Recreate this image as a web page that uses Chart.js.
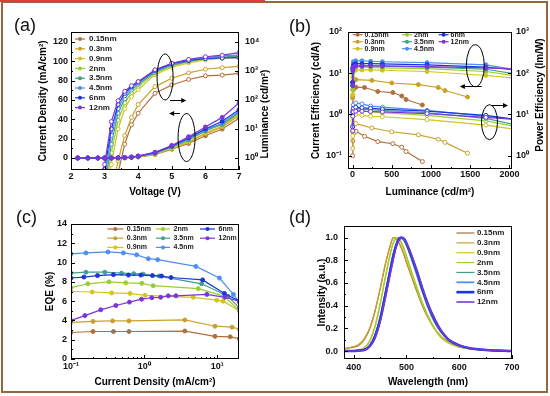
<!DOCTYPE html>
<html>
<head>
<meta charset="utf-8">
<script src="https://cdn.jsdelivr.net/npm/chart.js@4.4.1/dist/chart.umd.min.js"></script>
<style>
  body { margin: 0; background: #fff; }
  #wrap { position: relative; width: 550px; height: 396px; overflow: hidden; background: #fff; }
  canvas { position: absolute; }
  #frame { position: absolute; left: 1px; top: 1px; width: 543px; height: 388px; border: 2px solid #94683c; }
  #redline { position: absolute; left: 0; top: 0; width: 265px; height: 2px; background: #e23a3a; }
</style>
</head>
<body>
<div id="wrap">
  <canvas id="cA" width="275" height="198" style="left:0;top:0"></canvas>
  <canvas id="cB" width="275" height="198" style="left:275px;top:0"></canvas>
  <canvas id="cC" width="275" height="198" style="left:0;top:198px"></canvas>
  <canvas id="cD" width="275" height="198" style="left:275px;top:198px"></canvas>
  <div id="frame"></div>
  <div id="redline"></div>
</div>
<script>
// ---- data ----
const thickness = ['0.15nm', '0.3nm', '0.9nm', '2nm', '3.5nm', '4.5nm', '6nm', '12nm'];
const colors = ['#b0703c', '#c9a12a', '#d4c41c', '#9acd32', '#3fa08c', '#4d8ff0', '#1a35e0', '#7b35d8'];

// (a) J-V-L
const voltJ = [2.2, 2.5, 2.8, 3.0, 3.2, 3.4, 3.6, 3.8, 4.0, 4.5, 5.0, 5.5, 6.0, 6.5, 7.0];
const currentDensity = [
  [0, 0, 0, 0, 0, 0, 0.1, 0.4, 1.0, 3.5, 9, 15, 23, 30, 41],
  [0, 0, 0, 0, 0, 0, 0.2, 0.5, 1.2, 4, 10, 16, 25, 32, 44],
  [0, 0, 0, 0, 0, 0.1, 0.2, 0.6, 1.3, 4, 10, 17, 26, 33, 45],
  [0, 0, 0, 0, 0, 0.1, 0.3, 0.7, 1.5, 4.5, 11, 18, 31, 34, 46],
  [0, 0, 0, 0, 0, 0.1, 0.3, 0.8, 1.6, 5, 11.5, 19, 28, 35, 47],
  [0, 0, 0, 0, 0, 0.1, 0.4, 0.9, 1.8, 5, 12, 20, 29, 36, 48],
  [0, 0, 0, 0, 0, 0.2, 0.5, 1.0, 2.0, 5.5, 12.5, 21, 30, 38, 50],
  [0, 0, 0, 0, 0, 0.2, 0.5, 1.0, 2.0, 6, 13, 22, 32, 42, 57]
];
const voltL = [2.8, 3.0, 3.2, 3.4, 3.6, 3.8, 4.0, 4.5, 5.0, 5.5, 6.0, 6.5, 7.0];
const luminance = [
  [0.01, 0.01, 0.02, 0.3, 3, 14, 35, 170, 330, 510, 680, 720, 830],
  [0.01, 0.01, 0.05, 0.8, 6, 25, 70, 290, 560, 860, 1150, 1300, 1450],
  [0.01, 0.02, 0.6, 10, 50, 130, 230, 750, 1350, 1900, 2400, 2700, 2900],
  [0.01, 0.05, 1.5, 20, 80, 180, 300, 850, 1500, 2100, 2600, 2900, 3200],
  [0.01, 0.1, 3, 35, 110, 220, 350, 900, 1600, 2200, 2700, 3000, 3300],
  [0.02, 0.2, 6, 50, 140, 260, 390, 1000, 1750, 2400, 2900, 3300, 3500],
  [0.05, 0.4, 10, 70, 170, 290, 420, 1050, 1800, 2300, 2700, 2800, 2900],
  [0.15, 0.6, 18, 95, 200, 310, 430, 1100, 1850, 2500, 3100, 3500, 4300]
];

// (b) efficiencies vs luminance
const lumB015 = [0.5, 3, 10, 43, 152, 322, 513, 627, 682, 890];
const lumB03 = [0.5, 3, 10, 43, 246, 500, 839, 1093, 1178, 1466];
const lumBUp = [0.5, 3, 10, 40, 120, 230, 380, 950, 1700, 2100];
const lumB = [lumB015, lumB03, lumBUp, lumBUp, lumBUp, lumBUp, lumBUp, lumBUp];
const currentEff = [
  [1.2, 2.8, 4.0, 4.6, 4.5, 3.6, 3.4, 2.8, 2.3, 1.7],
  [2.5, 5, 6.5, 7.0, 6.7, 5.8, 5.3, 4.5, 3.8, 2.65],
  [3, 8, 11, 12, 12, 12, 11.8, 11, 8.8, 7.5],
  [4, 10, 13, 14, 14, 13.8, 13.5, 13, 11, 8.5],
  [5, 11, 14, 15, 15, 15, 14.8, 14, 12.5, 9.5],
  [6, 14, 19, 20, 20, 19.5, 19, 18, 16, 12],
  [6, 13, 16, 17, 17, 17, 16.8, 16, 14, 12],
  [5, 12, 14, 15, 15, 15, 15, 14.5, 13.5, 12.5]
];
const powerEff = [
  [1.0, 2.3, 3.4, 3.9, 2.95, 2.2, 1.95, 1.6, 1.26, 0.72],
  [1.5, 4, 5.8, 6.0, 4.7, 3.8, 3.2, 2.5, 2.1, 1.15],
  [3, 7, 9.5, 10, 9.5, 9, 8.8, 7.5, 5.5, 4.3],
  [4, 9, 12, 12.5, 12, 11.5, 11, 9.5, 7, 5],
  [4, 10, 13, 14, 13.5, 13, 12.5, 11, 8, 5.5],
  [5, 12, 17, 19, 18, 16, 15, 12.5, 9, 7.5],
  [5, 11, 14, 15, 14.5, 14, 13.5, 12, 9.5, 7.5],
  [4, 9, 11.5, 12, 12, 11.8, 11.5, 10.5, 8.5, 7.5]
];

// (c) EQE vs current density
const jC = [
  [0.1, 0.2, 0.38, 0.62, 3.6, 9.3, 15, 20],
  [0.1, 0.2, 0.37, 0.62, 3.6, 9.3, 15.9, 20],
  [0.1, 0.195, 0.36, 0.64, 1.03, 4.7, 9.8, 12, 20],
  [0.1, 0.17, 0.33, 0.56, 0.93, 1.33, 5.5, 12.6, 20],
  [0.1, 0.16, 0.29, 0.49, 0.72, 0.97, 1.6, 6.1, 14, 20],
  [0.1, 0.16, 0.32, 0.52, 0.79, 1.14, 1.53, 5.1, 10.7, 16.6, 20],
  [0.1, 0.15, 0.23, 0.38, 0.61, 0.9, 1.3, 1.73, 2.33, 6.3, 12.5, 20],
  [0.1, 0.155, 0.255, 0.41, 0.63, 0.92, 1.27, 1.68, 2.14, 2.72, 7.2, 12.7, 20]
];
const eqe = [
  [2.75, 2.85, 2.85, 2.85, 2.9, 2.35, 2.3, 2.1],
  [3.8, 3.9, 3.95, 3.95, 4.05, 3.4, 3.3, 3.1],
  [7.0, 6.95, 6.85, 6.8, 6.6, 6.4, 6.1, 6.0, 5.0],
  [7.4, 7.8, 8.0, 7.9, 7.85, 7.6, 7.3, 6.5, 5.0],
  [8.9, 9.0, 9.0, 8.9, 8.85, 8.8, 8.6, 7.8, 6.5, 5.3],
  [10.9, 11.0, 11.1, 11.0, 10.8, 10.4, 10.3, 9.6, 8.4, 6.7, 5.9],
  [8.4, 8.5, 8.65, 8.75, 8.7, 8.7, 8.65, 8.6, 8.45, 8.2, 6.8, 6.0],
  [4.0, 4.5, 5.1, 5.55, 5.9, 6.2, 6.35, 6.4, 6.55, 6.55, 6.7, 6.4, 6.0]
];

// (d) EL spectra
const wavelength = [380, 400, 410, 420, 430, 440, 450, 460, 470, 475, 480, 485, 490, 495, 500, 510, 520, 530, 540, 550, 560, 570, 580, 600, 620, 650, 700];
const intensity = [
  [0.02, 0.035, 0.05, 0.1, 0.19, 0.34, 0.54, 0.76, 0.94, 1.0, 0.99, 0.96, 0.91, 0.85, 0.78, 0.65, 0.52, 0.4, 0.3, 0.22, 0.15, 0.11, 0.08, 0.04, 0.02, 0.01, 0.0],
  [0.02, 0.04, 0.06, 0.11, 0.2, 0.35, 0.55, 0.77, 0.94, 1.0, 0.99, 0.96, 0.92, 0.86, 0.79, 0.66, 0.53, 0.41, 0.31, 0.22, 0.16, 0.11, 0.08, 0.04, 0.02, 0.01, 0.0],
  [0.0, 0.005, 0.01, 0.03, 0.09, 0.22, 0.42, 0.66, 0.88, 0.96, 1.0, 0.99, 0.95, 0.9, 0.83, 0.68, 0.55, 0.42, 0.31, 0.22, 0.15, 0.1, 0.07, 0.035, 0.02, 0.01, 0.0],
  [0.0, 0.005, 0.01, 0.03, 0.08, 0.2, 0.4, 0.64, 0.86, 0.95, 0.99, 1.0, 0.96, 0.91, 0.84, 0.7, 0.56, 0.43, 0.32, 0.23, 0.16, 0.11, 0.075, 0.035, 0.02, 0.01, 0.0],
  [0.0, 0.0, 0.005, 0.015, 0.05, 0.14, 0.3, 0.52, 0.75, 0.86, 0.94, 0.99, 1.0, 0.98, 0.93, 0.8, 0.66, 0.52, 0.39, 0.28, 0.2, 0.14, 0.1, 0.05, 0.025, 0.01, 0.0],
  [0.0, 0.0, 0.005, 0.012, 0.045, 0.13, 0.29, 0.51, 0.74, 0.85, 0.93, 0.99, 1.0, 0.98, 0.94, 0.82, 0.68, 0.54, 0.41, 0.3, 0.21, 0.15, 0.1, 0.05, 0.025, 0.01, 0.0],
  [0.0, 0.0, 0.005, 0.01, 0.04, 0.12, 0.27, 0.49, 0.72, 0.83, 0.92, 0.98, 1.0, 0.99, 0.95, 0.83, 0.7, 0.55, 0.42, 0.31, 0.22, 0.15, 0.1, 0.05, 0.025, 0.01, 0.0],
  [0.0, 0.0, 0.005, 0.01, 0.04, 0.11, 0.26, 0.47, 0.7, 0.81, 0.91, 0.97, 1.0, 0.99, 0.95, 0.84, 0.7, 0.56, 0.42, 0.31, 0.22, 0.15, 0.1, 0.05, 0.025, 0.01, 0.0]
];
const spectrumWidth = [1.2, 1.2, 1.2, 1.2, 1.2, 1.8, 2.6, 1.6];

// ---- helpers ----
const FONT = 'Arial, "Liberation Sans", sans-serif';
Chart.defaults.font.family = FONT;
Chart.defaults.font.weight = 'bold';
Chart.defaults.color = '#111';
Chart.defaults.animation = false;
Chart.defaults.responsive = false;
Chart.defaults.plugins.legend.display = false;
Chart.defaults.plugins.tooltip.enabled = false;

const SUP = { '-': '⁻', '0': '⁰', '1': '¹', '2': '²', '3': '³', '4': '⁴', '5': '⁵', '6': '⁶', '7': '⁷', '8': '⁸', '9': '⁹' };
const pow10 = v => '10' + String(Math.round(Math.log10(v))).split('').map(c => SUP[c]).join('');

function axis(o) {
  const all = o.major.concat(o.minor || []).sort((p, q) => p - q);
  return {
    type: o.type || 'linear',
    position: o.position,
    min: o.min,
    max: o.max,
    grid: { display: true, drawOnChartArea: false, drawTicks: false },
    border: { display: false },
    ticks: {
      padding: o.pad, autoSkip: false, maxRotation: 0, color: '#111',
      font: { size: 9, weight: 'bold' },
      callback: v => (o.major.includes(v) ? o.fmt(v) : '')
    },
    title: o.title
      ? { display: true, text: o.title, color: '#000', font: { size: 10, weight: 'bold' }, padding: o.titlePad }
      : { display: false },
    afterBuildTicks: s => { s.ticks = all.map(v => ({ value: v })); },
    afterFit: s => {
      if (s.isHorizontal()) { s.height = o.size; s.paddingLeft = 0; s.paddingRight = 0; }
      else { s.width = o.size; s.paddingTop = 0; s.paddingBottom = 0; }
    }
  };
}

function series(xs, ys, color, extra) {
  return Object.assign({
    data: xs.map((x, i) => ({ x: x, y: ys[i] })),
    borderColor: color, backgroundColor: color,
    pointBackgroundColor: color, pointBorderColor: color,
    borderWidth: 1.2, pointRadius: 2, pointBorderWidth: 1, tension: 0
  }, extra || {});
}

// frame, inward ticks, legend, notes
function decor(o) {
  return {
    id: 'decor',
    afterDraw(chart) {
      const { ctx, chartArea: a, scales } = chart;
      ctx.save();
      ctx.strokeStyle = '#000';
      ctx.lineWidth = 1;
      ctx.strokeRect(Math.round(a.left) + 0.5, Math.round(a.top) + 0.5, Math.round(a.right - a.left) - 1, Math.round(a.bottom - a.top) - 1);
      Object.values(scales).forEach(s => {
        s.ticks.forEach(t => {
          if (t.value < s.min || t.value > s.max) return;
          const p = Math.round(s.getPixelForValue(t.value)) + 0.5;
          const len = t.label === '' ? 2 : 4;
          ctx.beginPath();
          if (s.position === 'bottom') { ctx.moveTo(p, a.bottom); ctx.lineTo(p, a.bottom - len); }
          else if (s.position === 'left') { ctx.moveTo(a.left, p); ctx.lineTo(a.left + len, p); }
          else { ctx.moveTo(a.right, p); ctx.lineTo(a.right - len, p); }
          ctx.stroke();
        });
      });

      // ellipses and arrows
      (o.ellipses || []).forEach(e => {
        const cx = scales.x.getPixelForValue(e.x), cy = scales[e.ys].getPixelForValue(e.y);
        ctx.beginPath();
        ctx.ellipse(cx, cy, e.rx, e.ry, 0, 0, Math.PI * 2);
        ctx.stroke();
      });
      (o.arrows || []).forEach(r => {
        const x1 = scales.x.getPixelForValue(r.x1), x2 = scales.x.getPixelForValue(r.x2);
        const y = Math.round(scales[r.ys].getPixelForValue(r.y)) + 0.5;
        const d = x2 > x1 ? 1 : -1;
        ctx.beginPath(); ctx.moveTo(x1, y); ctx.lineTo(x2 - d * 4, y); ctx.stroke();
        ctx.fillStyle = '#000';
        ctx.beginPath(); ctx.moveTo(x2, y); ctx.lineTo(x2 - d * 5, y - 2.5); ctx.lineTo(x2 - d * 5, y + 2.5); ctx.closePath(); ctx.fill();
      });

      // legend
      if (o.legend) {
        const L = o.legend;
        ctx.font = 'bold ' + L.size + 'px ' + FONT;
        ctx.textBaseline = 'middle';
        ctx.textAlign = 'left';
        thickness.forEach((name, i) => {
          const col = Math.floor(i / L.rows), row = i % L.rows;
          const x = a.left + L.cols[col], y = a.top + L.y0 + row * L.rowH;
          const len = L.len[col];
          ctx.strokeStyle = colors[i];
          ctx.lineWidth = L.widths ? L.widths[i] : 1.2;
          ctx.beginPath(); ctx.moveTo(x, y); ctx.lineTo(x + len, y); ctx.stroke();
          if (L.marker) {
            ctx.fillStyle = colors[i];
            ctx.beginPath(); ctx.arc(x + len / 2, y, 2, 0, Math.PI * 2); ctx.fill();
          }
          ctx.fillStyle = '#222';
          ctx.fillText(name, x + len + L.gap, y);
        });
      }

      // right axis title (reads bottom to top)
      if (o.rightTitle) {
        ctx.save();
        ctx.translate(o.rightTitle.x, o.rightTitle.y);
        ctx.rotate(-Math.PI / 2);
        ctx.font = 'bold 10px ' + FONT;
        ctx.textAlign = 'center';
        ctx.textBaseline = 'middle';
        ctx.fillStyle = '#000';
        ctx.fillText(o.rightTitle.text, 0, 0);
        ctx.restore();
      }

      // panel label
      ctx.font = '18px ' + FONT;
      ctx.fillStyle = '#111';
      ctx.textAlign = 'left';
      ctx.textBaseline = 'middle';
      ctx.fillText(o.label.text, o.label.x, o.label.y);
      ctx.restore();
    }
  };
}

// ---- (a) ----
const dsA = [];
thickness.forEach((t, i) => {
  dsA.push(series(voltJ, currentDensity[i], colors[i], { yAxisID: 'y' }));
  dsA.push(series(voltL, luminance[i], colors[i], { yAxisID: 'y2', pointBackgroundColor: '#fff' }));
});
new Chart(document.getElementById('cA'), {
  type: 'line',
  data: { datasets: dsA.reverse() },
  options: {
    layout: { padding: { top: 32 } },
    scales: {
      x: axis({ position: 'bottom', min: 2, max: 7, major: [2, 3, 4, 5, 6, 7], minor: [2.5, 3.5, 4.5, 5.5, 6.5], fmt: String, size: 28, pad: 1, title: 'Voltage (V)', titlePad: { top: 0, bottom: 0 } }),
      y: axis({ position: 'left', min: -12.4, max: 130.3, major: [0, 20, 40, 60, 80, 100, 120], minor: [10, 30, 50, 70, 90, 110], fmt: String, size: 71, pad: 3, title: 'Current Density (mA/cm²)', titlePad: { top: 37, bottom: 0 } }),
      y2: axis({ type: 'logarithmic', position: 'right', min: 0.386, max: 22100, major: [1, 10, 100, 1000, 10000], fmt: pow10, size: 36, pad: 6 })
    }
  },
  plugins: [decor({
    label: { text: '(a)', x: 14, y: 26 },
    rightTitle: { text: 'Luminance (cd/m²)', x: 265, y: 114 },
    legend: { rows: 8, cols: [4], len: [10], gap: 4, y0: 7, rowH: 9.8, size: 8, marker: true },
    ellipses: [{ x: 4.8, y: 83.8, ys: 'y', rx: 8, ry: 23 }, { x: 5.44, y: 21.2, ys: 'y', rx: 8.5, ry: 24 }],
    arrows: [{ x1: 4.95, x2: 5.43, y: 60, ys: 'y' }, { x1: 5.24, x2: 4.92, y: 46.5, ys: 'y' }]
  })]
});

// ---- (b) ----
const dsB = [];
thickness.forEach((t, i) => {
  dsB.push(series(lumB[i], currentEff[i], colors[i], { yAxisID: 'y' }));
  dsB.push(series(lumB[i], powerEff[i], colors[i], { yAxisID: 'y2', pointBackgroundColor: '#fff' }));
});
new Chart(document.getElementById('cB'), {
  type: 'line',
  data: { datasets: dsB.reverse() },
  options: {
    layout: { padding: { top: 32 } },
    scales: {
      x: axis({ position: 'bottom', min: -58.5, max: 2033, major: [0, 500, 1000, 1500, 2000], minor: [250, 750, 1250, 1750], fmt: String, size: 29, pad: 0, title: 'Luminance (cd/m²)', titlePad: { top: 0, bottom: 0 } }),
      y: axis({ type: 'logarithmic', position: 'left', min: 0.0475, max: 100, major: [0.1, 1, 10, 100], fmt: pow10, size: 73, pad: 6, title: 'Current Efficiency (cd/A)', titlePad: { top: 35, bottom: 0 } }),
      y2: axis({ type: 'logarithmic', position: 'right', min: 0.475, max: 1000, major: [1, 10, 100, 1000], fmt: pow10, size: 38, pad: 4 })
    }
  },
  plugins: [decor({
    label: { text: '(b)', x: 14, y: 27 },
    rightTitle: { text: 'Power Efficiency (lm/W)', x: 265, y: 95 },
    legend: { rows: 3, cols: [4.6, 54, 90.6], len: [10, 10, 10], gap: 2, y0: 2.7, rowH: 7, size: 7, marker: true },
    ellipses: [{ x: 1565, y: 15.2, ys: 'y', rx: 9, ry: 21 }, { x: 1746, y: 0.65, ys: 'y', rx: 8, ry: 17.5 }],
    arrows: [{ x1: 1647, x2: 1368, y: 4.84, ys: 'y' }, { x1: 1771, x2: 1982, y: 1.73, ys: 'y' }]
  })]
});

// ---- (c) ----
const dsC = thickness.map((t, i) => series(jC[i], eqe[i], colors[i]));
new Chart(document.getElementById('cC'), {
  type: 'line',
  data: { datasets: dsC.reverse() },
  options: {
    layout: { padding: { top: 26, right: 36 } },
    scales: {
      x: axis({ type: 'logarithmic', position: 'bottom', min: 0.1, max: 19.8, major: [0.1, 1, 10], minor: [0.2, 0.3, 0.4, 0.5, 0.6, 0.7, 0.8, 0.9, 2, 3, 4, 5, 6, 7, 8, 9], fmt: pow10, size: 37, pad: 2, title: 'Current Density (mA/cm²)', titlePad: { top: 0, bottom: 7.7 } }),
      y: axis({ position: 'left', min: 0, max: 14, major: [0, 2, 4, 6, 8, 10, 12, 14], minor: [1, 3, 5, 7, 9, 11, 13], fmt: String, size: 71, pad: 4, title: 'EQE (%)', titlePad: { top: 44, bottom: 0 } })
    }
  },
  plugins: [decor({
    label: { text: '(c)', x: 16, y: 20 },
    legend: { rows: 3, cols: [36.3, 85, 129], len: [16, 14, 15], gap: 3.5, y0: 5, rowH: 9.2, size: 7, marker: true }
  })]
});

// ---- (d) ----
const dsD = thickness.map((t, i) => series(wavelength, intensity[i], colors[i], { borderWidth: spectrumWidth[i], pointRadius: 0, cubicInterpolationMode: 'monotone' }));
new Chart(document.getElementById('cD'), {
  type: 'line',
  data: { datasets: dsD.reverse() },
  options: {
    layout: { padding: { top: 28, right: 38 } },
    scales: {
      x: axis({ position: 'bottom', min: 381.7, max: 700, major: [400, 500, 600, 700], minor: [450, 550, 650], fmt: String, size: 37, pad: 3, title: 'Wavelength (nm)', titlePad: { top: 0, bottom: 7.7 } }),
      y: axis({ position: 'left', min: -0.07, max: 1.102, major: [0, 0.2, 0.4, 0.6, 0.8, 1.0], minor: [0.1, 0.3, 0.5, 0.7, 0.9], fmt: v => v.toFixed(1), size: 69, pad: 6, title: 'Intensity (a.u.)', titlePad: { top: 41.7, bottom: 0 } })
    }
  },
  plugins: [decor({
    label: { text: '(d)', x: 14, y: 20 },
    legend: { rows: 8, cols: [112.4], len: [18], gap: 2.5, y0: 7, rowH: 9.86, size: 8, marker: false, widths: spectrumWidth }
  })]
});
</script>
</body>
</html>
